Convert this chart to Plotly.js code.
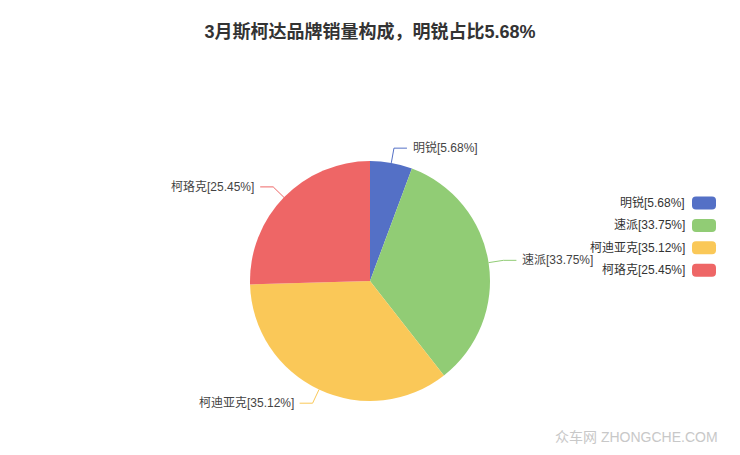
<!DOCTYPE html>
<html>
<head>
<meta charset="utf-8">
<script src="https://cdn.plot.ly/plotly-3.0.1.min.js"></script>
<style>html,body{margin:0;padding:0;background:#fff;}#chart{width:740px;height:455px;}</style>
</head>
<body>
<div id="chart"></div>
<script>
// ---- data ----
var categories = ["明锐", "速派", "柯迪亚克", "柯珞克"];
var shares = [5.68, 33.75, 35.12, 25.45];
var colors = ["#5470c6", "#91cc75", "#fac858", "#ee6666"];
var titleText = "3月斯柯达品牌销量构成，明锐占比5.68%";
var watermark = "众车网 ZHONGCHE.COM";

// ---- layout geometry (pixels) ----
var W = 740, H = 455;
var cx = 370, cy = 281, R = 120;
var FONT = '"Liberation Sans", Arial, "Noto Sans CJK SC", sans-serif';

function px(x) { return x / W; }
function py(y) { return 1 - y / H; }
function P(x, y) { return px(x).toFixed(5) + ',' + py(y).toFixed(5); }

var labelTexts = categories.map(function (c, i) { return c + '[' + shares[i].toFixed(2) + '%]'; });

var shapes = [];
var annotations = [];
var total = shares.reduce(function (a, b) { return a + b; }, 0);
var cum = 0;
shares.forEach(function (v, i) {
  var mid = (cum + v / 2) / total * 2 * Math.PI;
  cum += v;
  var s = Math.sin(mid), c = Math.cos(mid);
  var x0 = cx + R * s, y0 = cy - R * c;
  var x1 = cx + (R + 15) * s, y1 = cy - (R + 15) * c;
  var right = s >= 0;
  var x2 = x1 + (right ? 13 : -13);
  shapes.push({
    type: 'path', xref: 'paper', yref: 'paper',
    path: 'M' + P(x0, y0) + ' L' + P(x1, y1) + ' L' + P(x2, y1),
    line: { color: colors[i], width: 1 }
  });
  annotations.push({
    xref: 'paper', yref: 'paper',
    x: px(x2 + (right ? 4 : -4)), y: py(y1),
    xanchor: right ? 'left' : 'right', yanchor: 'middle',
    text: labelTexts[i], showarrow: false,
    font: { family: FONT, size: 12, color: '#444' }
  });
});

// ---- custom legend (text right-aligned, swatch on the right) ----
var legTop = 203, legStep = 22.4, swL = 692, swR = 716, swH = 13, rr = 4;
categories.forEach(function (c, i) {
  var yc = legTop + i * legStep;
  var t = yc - swH / 2, b = yc + swH / 2;
  var path = 'M' + P(swL + rr, t) + ' L' + P(swR - rr, t) + ' Q' + P(swR, t) + ' ' + P(swR, t + rr) +
    ' L' + P(swR, b - rr) + ' Q' + P(swR, b) + ' ' + P(swR - rr, b) +
    ' L' + P(swL + rr, b) + ' Q' + P(swL, b) + ' ' + P(swL, b - rr) +
    ' L' + P(swL, t + rr) + ' Q' + P(swL, t) + ' ' + P(swL + rr, t) + ' Z';
  shapes.push({ type: 'path', xref: 'paper', yref: 'paper', path: path,
    fillcolor: colors[i], line: { width: 0 } });
  annotations.push({
    xref: 'paper', yref: 'paper', x: px(687), y: py(yc),
    xanchor: 'right', yanchor: 'middle', text: labelTexts[i], showarrow: false,
    font: { family: FONT, size: 12, color: '#333' }
  });
});

// watermark
annotations.push({
  xref: 'paper', yref: 'paper', x: px(720), y: py(437),
  xanchor: 'right', yanchor: 'middle', text: watermark, showarrow: false,
  font: { family: FONT, size: 14, color: '#c8c8c8' }
});

var trace = {
  type: 'pie',
  labels: categories,
  values: shares,
  sort: false,
  direction: 'clockwise',
  rotation: 0,
  marker: { colors: colors, line: { color: '#ffffff', width: 0 } },
  textinfo: 'none',
  hoverinfo: 'skip',
  showlegend: false,
  domain: { x: [px(cx - R), px(cx + R)], y: [py(cy + R), py(cy - R)] }
};

var layout = {
  width: W, height: H,
  margin: { l: 0, r: 0, t: 0, b: 0 },
  paper_bgcolor: '#ffffff',
  showlegend: false,
  title: {
    text: '<b>' + titleText + '</b>',
    x: 0.5, xanchor: 'center', y: py(32), yanchor: 'middle',
    font: { family: FONT, size: 18, color: '#333' }
  },
  shapes: shapes,
  annotations: annotations
};

Plotly.newPlot('chart', [trace], layout, { staticPlot: true, displayModeBar: false });
</script>
</body>
</html>
